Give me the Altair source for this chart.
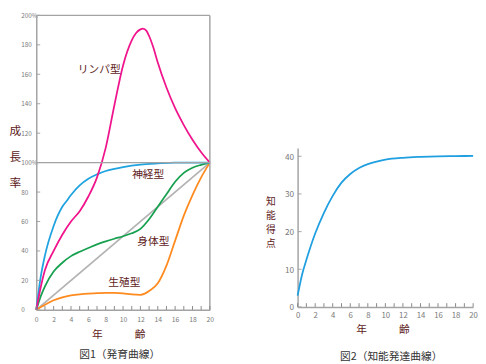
import altair as alt
import pandas as pd

FONT = "Noto Sans CJK JP"
MAROON = "#5e1b1b"
AXIS_GREY = "#a3a3a3"
LABEL_GREY = "#7a7a7a"
CAPTION = "#333333"

# ---------------- Figure 1 (Scammon growth curves) ----------------
lymph_x = [0, 0.5, 1, 2, 3, 4, 5, 6, 7, 8, 9, 10, 11, 11.5, 12, 12.3, 12.7, 13, 13.5, 14, 15, 16, 17, 18, 19, 20]
lymph_y = [0, 15, 27, 40, 51, 60, 67, 77, 90, 110, 139, 166, 183, 188, 190.5, 191, 189.5, 186, 178, 168, 151, 137, 125.5, 115.5, 107, 100]

neural_x = [0, 0.5, 1, 2, 3, 3.5, 4, 5, 6, 7, 8, 9, 10, 12, 14, 16, 18, 20]
neural_y = [0, 22, 37, 57, 70, 74, 78, 84.5, 89, 92, 94.3, 95.8, 97, 98.7, 99.5, 100, 100, 100]

general_x = [0, 0.5, 1, 2, 3, 4, 5, 6, 7, 8, 9, 10, 11, 12, 13, 14, 15, 16, 17, 18, 19, 20]
general_y = [0, 9, 16, 26, 32, 36.5, 39.5, 42, 44.5, 46.5, 48.3, 50, 52, 55, 61.5, 70, 78.5, 87, 93, 96.5, 98.5, 100]

repro_x = [0, 1, 2, 3, 4, 5, 6, 7, 8, 9, 10, 11, 12, 12.5, 13, 14, 15, 16, 17, 18, 19, 20]
repro_y = [0, 3.5, 6.5, 8.5, 9.8, 10.6, 11.1, 11.3, 11.5, 11.5, 11.2, 10.5, 10.2, 11, 12.8, 18, 30, 47, 64, 78, 90, 100]

diag_x = [0, 20]
diag_y = [0, 100]

series = [
    ("直線", diag_x, diag_y, "#b3b3b3"),
    ("生殖型", repro_x, repro_y, "#ff8a1e"),
    ("身体型", general_x, general_y, "#17a04f"),
    ("神経型", neural_x, neural_y, "#1fa3e0"),
    ("リンパ型", lymph_x, lymph_y, "#f0148c"),
]

label_text = ["リンパ型", "神経型", "身体型", "生殖型"]
label_x = [7.25, 12.9, 13.5, 10.15]
label_y = [163, 91.3, 46, 18.4]

y1_ticks = [0, 20, 40, 60, 80, 100, 120, 140, 160, 180, 200]
x_minor = list(range(0, 21))
x_labels = list(range(0, 21, 2))

# ---------------- Figure 2 (intelligence development) ----------------
iq_x = [0, 0.5, 1, 2, 3, 4, 5, 6, 7, 8, 9, 10, 12, 14, 16, 18, 20]
iq_y = [3, 8.5, 12.5, 19.5, 25, 29.5, 33, 35.3, 36.9, 37.9, 38.6, 39.1, 39.6, 39.85, 40, 40.05, 40.1]
y2_ticks = [0, 10, 20, 30, 40]

W1, H1 = 178, 302
W2, H2 = 180, 302

x1_scale = alt.Scale(domain=[0, 20], nice=False, zero=False)
y1_scale = alt.Scale(domain=[0, 200], nice=False)

x1_axis = alt.Axis(
    values=x_labels, format="d", labelFontSize=7, labelColor=LABEL_GREY, labelFont=FONT,
    labelPadding=6, labelFlush=False, ticks=False, tickSize=0,
    domainColor=AXIS_GREY, domainWidth=1.5, grid=False,
    title="年\u3000\u3000\u3000齢", titleFont=FONT, titleFontSize=11, titleFontWeight="normal",
    titleColor=MAROON, titleX=84, titleY=25, titleBaseline="middle", titleAlign="center",
)
y1_axis = alt.Axis(
    values=y1_ticks,
    labelExpr="(datum.value == 100 || datum.value == 200) ? datum.value + '%' : datum.label",
    labelFontSize=6.5, labelColor=LABEL_GREY, labelFont=FONT, labelAlign="left",
    labelPadding=16, ticks=False, tickSize=0,
    domainColor=AXIS_GREY, domainWidth=1.5, grid=False,
    title=["成", "長", "率"], titleAngle=0, titleFont=FONT, titleFontSize=12,
    titleFontWeight="normal", titleColor=MAROON, titleLineHeight=27,
    titleAlign="center", titleBaseline="top", titleX=-22, titleY=113,
)

X1 = dict(scale=x1_scale, axis=x1_axis)
Y1 = dict(scale=y1_scale, axis=y1_axis)

layers1 = []
for name, xs, ys, col in series:
    d = pd.DataFrame({"age": xs, "value": ys})
    layers1.append(
        alt.Chart(d).mark_line(color=col, strokeWidth=1.8, interpolate="monotone").encode(
            x=alt.X("age:Q", **X1),
            y=alt.Y("value:Q", **Y1),
        )
    )

ytick1 = alt.Chart(pd.DataFrame({"yt": y1_ticks, "x0": 0.0, "x1": 0.45})).mark_rule(
    color=AXIS_GREY, strokeWidth=1).encode(
    y=alt.Y("yt:Q", **Y1),
    x=alt.X("x0:Q", **X1), x2="x1:Q")
xtick1 = alt.Chart(pd.DataFrame({"xt": x_minor, "y0": 0.0, "y1": 2.6})).mark_rule(
    color="#888888", strokeWidth=1).encode(
    x=alt.X("xt:Q", **X1),
    y=alt.Y("y0:Q", **Y1), y2="y1:Q")

frame_df = pd.DataFrame({"hy": [200, 100]})
h_rules = alt.Chart(frame_df).mark_rule(color=AXIS_GREY, strokeWidth=1.5).encode(
    y=alt.Y("hy:Q", **Y1))
v_rule = alt.Chart(pd.DataFrame({"vx": [20]})).mark_rule(color=AXIS_GREY, strokeWidth=1.5).encode(
    x=alt.X("vx:Q", **X1))

labels1 = alt.Chart(pd.DataFrame({"lt": label_text, "lx": label_x, "ly": label_y})).mark_text(
    font=FONT, fontSize=11, color=MAROON, align="center", baseline="middle").encode(
    x=alt.X("lx:Q", **X1),
    y=alt.Y("ly:Q", **Y1),
    text="lt:N")

left = alt.layer(*layers1, h_rules, v_rule, ytick1, xtick1, labels1).properties(
    width=W1, height=H1,
    title=alt.TitleParams("図1（発育曲線）", orient="bottom", font=FONT, fontSize=11,
                          fontWeight="normal", color=CAPTION, offset=10, dx=-3.5),
)

# right chart
x2_scale = alt.Scale(domain=[0, 20], nice=False, zero=False)
y2_scale = alt.Scale(domain=[0, 42.2], range=[299, 136], nice=False)

x2_axis = alt.Axis(
    values=x_labels, format="d", labelFontSize=8, labelColor=LABEL_GREY, labelFont=FONT,
    labelPadding=5, labelFlush=False, ticks=False, tickSize=0, offset=-3,
    domainColor=AXIS_GREY, domainWidth=1.5, grid=False,
    title="年\u3000\u3000\u3000齢", titleFont=FONT, titleFontSize=11, titleFontWeight="normal",
    titleColor=MAROON, titleX=87, titleY=23, titleBaseline="middle", titleAlign="center",
)
y2_axis = alt.Axis(
    values=y2_ticks, labelFontSize=8.5, labelColor=LABEL_GREY, labelFont=FONT,
    labelPadding=4, ticks=False, tickSize=0,
    domainColor=AXIS_GREY, domainWidth=1.5, grid=False,
    title=["知", "能", "得", "点"], titleAngle=0, titleFont=FONT, titleFontSize=10,
    titleFontWeight="normal", titleColor=MAROON, titleLineHeight=14.5,
    titleAlign="center", titleBaseline="top", titleX=-28, titleY=186,
)
X2 = dict(scale=x2_scale, axis=x2_axis)
Y2 = dict(scale=y2_scale, axis=y2_axis)

iq_line = alt.Chart(pd.DataFrame({"age": iq_x, "score": iq_y})).mark_line(
    color="#1f9fe0", strokeWidth=1.8, interpolate="monotone").encode(
    x=alt.X("age:Q", **X2),
    y=alt.Y("score:Q", **Y2),
)
ytick2 = alt.Chart(pd.DataFrame({"yt": y2_ticks, "x0": 0.0, "x1": 0.45})).mark_rule(
    color=AXIS_GREY, strokeWidth=1).encode(
    y=alt.Y("yt:Q", **Y2),
    x=alt.X("x0:Q", **X2), x2="x1:Q")
xtick2 = alt.Chart(pd.DataFrame({"xt": x_minor, "y0": 0.0, "y1": 1.0})).mark_rule(
    color="#888888", strokeWidth=1).encode(
    x=alt.X("xt:Q", **X2),
    y=alt.Y("y0:Q", **Y2), y2="y1:Q")

right = alt.layer(iq_line, ytick2, xtick2).properties(
    width=W2, height=H2,
    title=alt.TitleParams("図2（知能発達曲線）", orient="bottom", font=FONT, fontSize=11,
                          fontWeight="normal", color=CAPTION, offset=17, dx=6),
)

chart = alt.hconcat(left, right, spacing=90, bounds="flush").properties(
    padding={"left": 0, "top": 0, "right": 0, "bottom": 0},
).configure_view(stroke=None)

chart.save("out.html", embed_options={"renderer": "svg", "actions": False})
